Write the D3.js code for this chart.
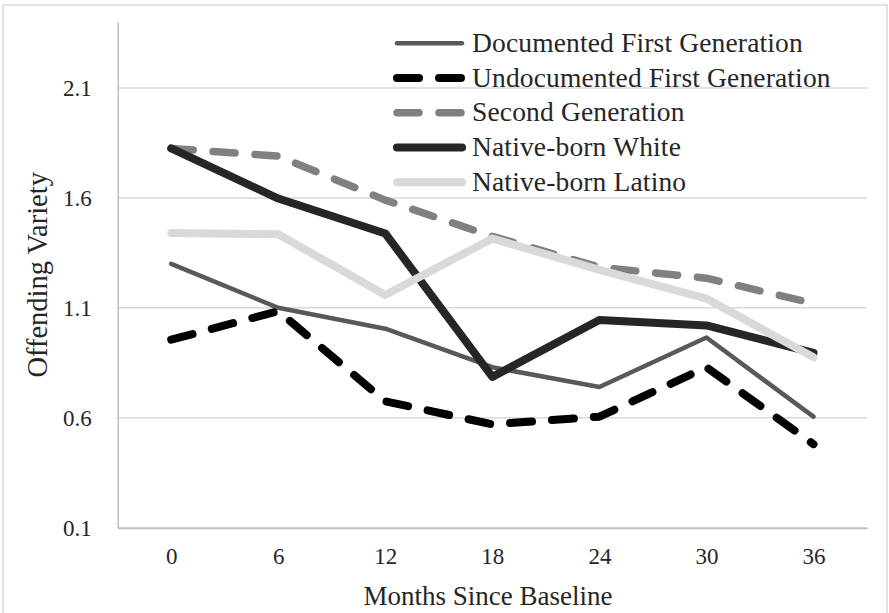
<!DOCTYPE html>
<html>
<head>
<meta charset="utf-8">
<script src="https://cdn.jsdelivr.net/npm/d3@7"></script>
<style>
  body { margin: 0; background: #fff; }
  svg { display: block; }
  text { font-family: "Liberation Serif", "Times New Roman", serif; fill: #262626; }
</style>
</head>
<body>
<script>
// months since baseline (categories)
const months = ["0", "6", "12", "18", "24", "30", "36"];

// offending variety per group
const documented = [1.30, 1.10, 1.005, 0.83, 0.74, 0.965, 0.605];
const undocumented = [0.955, 1.085, 0.675, 0.57, 0.605, 0.83, 0.48];
const secondGen = [1.825, 1.79, 1.59, 1.425, 1.285, 1.235, 1.12];
const nativeWhite = [1.825, 1.597, 1.438, 0.786, 1.045, 1.02, 0.895];
const nativeLatino = [1.44, 1.435, 1.158, 1.415, 1.273, 1.142, 0.875];

const seriesNames = [
  "Documented First Generation",
  "Undocumented First Generation",
  "Second Generation",
  "Native-born White",
  "Native-born Latino"
];

const yTicks = [0.1, 0.6, 1.1, 1.6, 2.1];

const W = 889;
const H = 613;
const margin = {top: 22, right: 22, bottom: 85, left: 117.7};

const styles = [
  {color: "#595959", width: 4.5, dash: null},
  {color: "#000000", width: 8, dash: "22,20"},
  {color: "#808080", width: 7.5, dash: "22,20"},
  {color: "#262626", width: 8, dash: null},
  {color: "#d9d9d9", width: 8, dash: null}
];

const series = [documented, undocumented, secondGen, nativeWhite, nativeLatino]
  .map((values, i) => ({name: seriesNames[i], values, style: styles[i]}));

const svg = d3.select("body").append("svg")
    .attr("width", W)
    .attr("height", H);

// chart frame
svg.append("rect")
    .attr("x", 3).attr("y", 5)
    .attr("width", 884).attr("height", 640)
    .attr("fill", "none")
    .attr("stroke", "#d9d9d9")
    .attr("stroke-width", 1.5);

const x = d3.scalePoint()
    .domain(months)
    .range([margin.left, 867])
    .padding(0.5);

const y = d3.scaleLinear()
    .domain([0.1, 2.4])
    .range([527.7, margin.top]);

// gridlines
svg.append("g")
  .selectAll("line")
  .data(yTicks.slice(1))
  .enter().append("line")
    .attr("x1", margin.left).attr("x2", 867)
    .attr("y1", d => y(d)).attr("y2", d => y(d))
    .attr("stroke", "#d9d9d9")
    .attr("stroke-width", 1.5);

// y axis
const yAxis = svg.append("g")
    .attr("transform", `translate(${margin.left},0)`)
    .call(d3.axisLeft(y).tickValues(yTicks).tickSize(0).tickPadding(26).tickFormat(d3.format(".1f")));
yAxis.select(".domain").attr("stroke", "#bfbfbf").attr("stroke-width", 1.5);
yAxis.selectAll("text")
    .style("font-size", "23px")
    .style("font-family", "Liberation Serif")
    .attr("fill", "#262626");

// x axis
const xAxis = svg.append("g")
    .attr("transform", `translate(0,${y(0.1)})`)
    .call(d3.axisBottom(x).tickSize(0).tickPadding(20));
xAxis.select(".domain").attr("stroke", "#bfbfbf").attr("stroke-width", 2);
xAxis.selectAll("text")
    .style("font-size", "23px")
    .style("font-family", "Liberation Serif")
    .attr("fill", "#262626");

// axis titles
svg.append("text")
    .attr("x", 488)
    .attr("y", 605)
    .attr("text-anchor", "middle")
    .style("font-size", "27px")
    .text("Months Since Baseline");

svg.append("text")
    .attr("transform", `translate(47,${(margin.top + 527.7) / 2}) rotate(-90)`)
    .attr("text-anchor", "middle")
    .style("font-size", "28.5px")
    .text("Offending Variety");

// series lines
const line = d3.line()
    .x((d, i) => x(months[i]))
    .y(d => y(d));

svg.append("g")
  .selectAll("path")
  .data(series)
  .enter().append("path")
    .attr("d", d => line(d.values))
    .attr("fill", "none")
    .attr("stroke", d => d.style.color)
    .attr("stroke-width", d => d.style.width)
    .attr("stroke-dasharray", d => d.style.dash)
    .attr("stroke-linecap", "round")
    .attr("stroke-linejoin", "round");

// legend
const legend = svg.append("g")
  .selectAll("g")
  .data(series)
  .enter().append("g")
    .attr("transform", (d, i) => `translate(0,${43.3 + i * 34.75})`);

legend.append("line")
    .attr("x1", 397).attr("x2", 462)
    .attr("y1", 0).attr("y2", 0)
    .attr("stroke", d => d.style.color)
    .attr("stroke-width", d => d.style.width)
    .attr("stroke-dasharray", d => d.style.dash)
    .attr("stroke-linecap", "round");

legend.append("text")
    .attr("x", 472)
    .attr("y", 8.5)
    .style("font-size", "27.5px")
    .style("letter-spacing", "0.15px")
    .text(d => d.name);
</script>
</body>
</html>
